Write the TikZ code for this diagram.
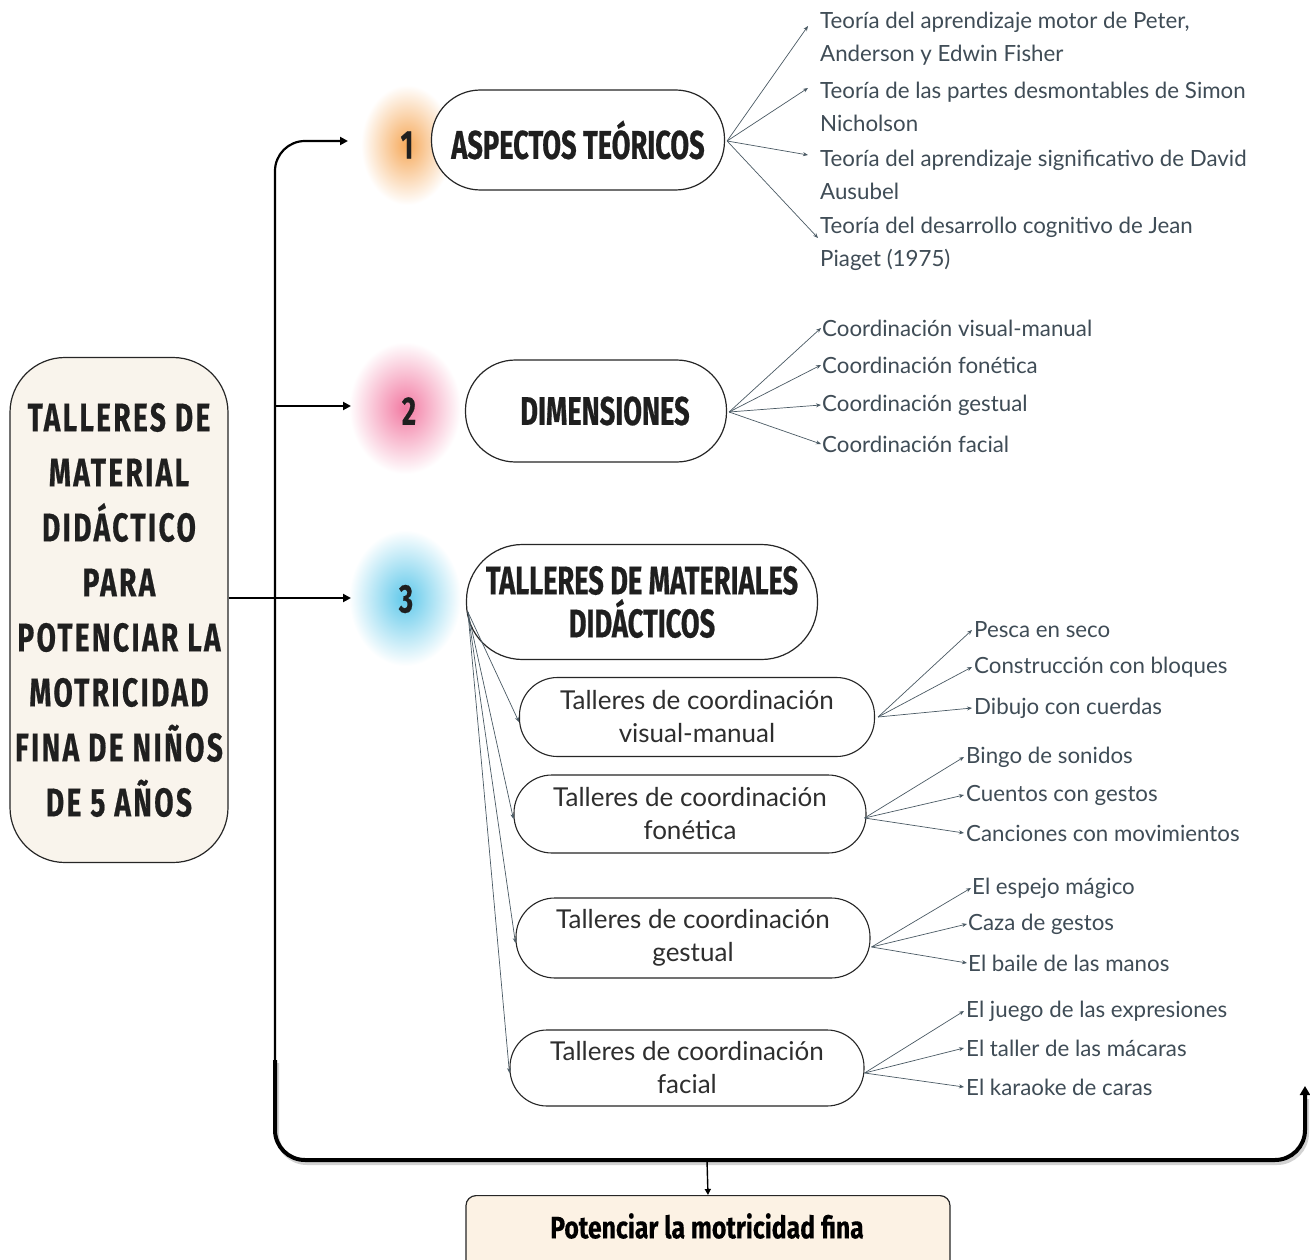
\documentclass[tikz,border=0pt]{standalone}
\usepackage{fontspec}
\setmainfont{Lato}
\newfontfamily\headfont[FakeStretch=0.68, BoldFeatures={FakeBold=0.5}]{Fira Sans}
\newfontfamily\headwide[FakeStretch=0.7, LetterSpace=6, BoldFeatures={FakeBold=0.5}]{Fira Sans}
\newfontfamily\botfont[FakeStretch=0.8, BoldFeatures={FakeBold=0.4}]{Fira Sans}
\usetikzlibrary{arrows.meta,calc}
\definecolor{cream}{HTML}{F9F4EC}
\definecolor{peach}{HTML}{FCF2E4}
\definecolor{itemc}{HTML}{3F4C56}
\definecolor{linec}{HTML}{4A5A64}
\definecolor{glowA}{HTML}{F6A95A}
\definecolor{glowB}{HTML}{F27AA2}
\definecolor{glowC}{HTML}{5FC8EA}
\begin{document}
\begin{tikzpicture}[x=1pt,y=-1pt,
  every node/.style={inner sep=0pt},
  head/.style={font=\headfont\bfseries\fontsize{40}{55}\selectfont, text=black!88},
  bigbox/.style={draw=black!85, line width=1.2pt, fill=white, align=center},
  subbox/.style={draw=black!85, line width=1.1pt, fill=white, align=center,
    font=\fontsize{26}{33}\selectfont, text=black!82},
  item/.style={anchor=west, font=\fontsize{22.3}{33}\selectfont, text=itemc, align=left},
  fan/.style={draw=linec, line width=0.7pt, -{Stealth[length=5pt,width=4pt]}},
  mainln/.style={draw=black, line width=2.2pt, -{Triangle[length=8pt,width=8pt]}},
]
\useasboundingbox[fill=white] (0,0) rectangle (1310,1260);

% glows
\shade[inner color=glowA, outer color=white] (407,145) ellipse [x radius=46, y radius=60];
\shade[inner color=glowB, outer color=white] (405,408) ellipse [x radius=56, y radius=66];
\shade[inner color=glowC, outer color=white] (405,598) ellipse [x radius=56, y radius=68];

% numbers
\node[head] (n1) at (407,145) {1};
\node[head] (n2) at (409,411) {2};
\node[head] (n3) at (406,599) {3};

% main box
\node[draw=black!85, line width=1.2pt, fill=cream, rounded corners=55,
  minimum width=218, minimum height=505, align=center,
  font=\headwide\bfseries\fontsize{40}{55}\selectfont, text=black!88] (main) at (119,610)
  {TALLERES DE\\MATERIAL\\DIDÁCTICO\\PARA\\POTENCIAR LA\\MOTRICIDAD\\FINA DE NIÑOS\\DE 5 AÑOS};

% level 1 boxes
\node[bigbox, rounded corners=49, minimum width=293, minimum height=100, head] (b1) at (578,140) {ASPECTOS TEÓRICOS};
\node[bigbox, rounded corners=50, minimum width=261, minimum height=102, head] (b2) at (596,411) {\hspace*{18pt}DIMENSIONES};
\node[bigbox, rounded corners=56, minimum width=351, minimum height=115, head,
  font=\headfont\bfseries\fontsize{40}{43}\selectfont] (b3) at (642,602) {TALLERES DE MATERIALES\\DIDÁCTICOS};

% sub boxes
\node[subbox, rounded corners=38, minimum width=355, minimum height=79] (s1) at (697,717) {Talleres de coordinación\\visual-manual};
\node[subbox, rounded corners=38, minimum width=352, minimum height=78] (s2) at (690,814) {Talleres de coordinación\\fonética};
\node[subbox, rounded corners=39, minimum width=354, minimum height=80] (s3) at (693,938) {Talleres de coordinación\\gestual};
\node[subbox, rounded corners=37, minimum width=354, minimum height=76] (s4) at (687,1068) {Talleres de coordinación\\facial};

% bottom box
\node[draw=black!85, line width=1.2pt, fill=peach, rounded corners=10,
  minimum width=484, minimum height=80, anchor=north] (bot) at (708,1195) {};
\node[font=\botfont\bfseries\fontsize{31}{34}\selectfont, text=black] (botT) at (707,1226) {Potenciar la motricidad fina};

% items of box 1
\node[item] (t1) at (820,39) {Teoría del aprendizaje motor de Peter,\\Anderson y Edwin Fisher};
\node[item] (t2) at (820,107) {Teoría de las partes desmontables de Simon\\Nicholson};
\node[item] (t3) at (820,175) {Teoría del aprendizaje significativo de David\\Ausubel};
\node[item] (t4) at (820,244) {Teoría del desarrollo cognitivo de Jean\\Piaget (1975)};
% items of box 2
\node[item] (d1) at (822,328) {Coordinación visual-manual};
\node[item] (d2) at (822,365) {Coordinación fonética};
\node[item] (d3) at (822,405) {Coordinación gestual};
\node[item] (d4) at (822,444) {Coordinación facial};
% items of sub boxes
\node[item] (p1) at (974,630) {Pesca en seco};
\node[item] (p2) at (974,667) {Construcción con bloques};
\node[item] (p3) at (974,708) {Dibujo con cuerdas};
\node[item] (q1) at (966,757) {Bingo de sonidos};
\node[item] (q2) at (966,795) {Cuentos con gestos};
\node[item] (q3) at (966,833) {Canciones con movimientos};
\node[item] (r1) at (972,888) {El espejo mágico};
\node[item] (r2) at (968,924) {Caza de gestos};
\node[item] (r3) at (968,963) {El baile de las manos};
\node[item] (u1) at (966,1011) {El juego de las expresiones};
\node[item] (u2) at (966,1048) {El taller de las mácaras};
\node[item] (u3) at (966,1087) {El karaoke de caras};

% fan connectors
\draw[fan] ($(b1.east)+(2,1)$) -- ($(t1.west)+(-12,-13)$);
\draw[fan] ($(b1.east)+(2,1)$) -- ($(t2.west)+(-12,-19)$);
\draw[fan] ($(b1.east)+(2,1)$) -- ($(t3.west)+(-12,-20)$);
\draw[fan] ($(b1.east)+(2,1)$) -- ($(t4.west)+(-2,-6)$);
\foreach \t in {d1,d2,d3,d4}
  \draw[fan] ($(b2.east)+(2,1)$) -- ($(\t.west)+(-1,0)$);
\foreach \t in {p1,p2,p3}
  \draw[fan] ($(s1.east)+(3,0)$) -- ($(\t.west)+(-2,0)$);
\foreach \t in {q1,q2,q3}
  \draw[fan] ($(s2.east)+(-2,4)$) -- ($(\t.west)+(-2,0)$);
\foreach \t in {r1,r2,r3}
  \draw[fan] ($(s3.east)+(1,9)$) -- ($(\t.west)+(-1,0)$);
\foreach \t in {u1,u2,u3}
  \draw[fan] ($(s4.east)+(0,5)$) -- ($(\t.west)+(-2,0)$);
\foreach \t in {s1,s2,s3,s4}
  \draw[fan] ($(b3.west)+(2,10)$) -- ($(\t.west)+(0,5)$);

% main connectors
\coordinate (a1) at (348,141);
\coordinate (a2) at (351,406);
\coordinate (a3) at (351,598);
\coordinate (vtop) at (275,141);
\coordinate (v2) at (275,406);
\coordinate (vlow) at (275,1060);
\coordinate (bl) at (275,1160);
\coordinate (br) at (1305,1160);
\coordinate (endup) at (1305,1086);
\coordinate (drop) at (707,1160);

\draw[mainln, rounded corners=30] (vlow) -- (vtop) -- (a1);
\draw[mainln] (v2) -- (a2);
\draw[mainln] (main.east |- a3) -- (a3);
\draw[black!35, line width=4pt, rounded corners=30, opacity=0.5] ($(vlow)+(2,3)$) -- ($(bl)+(2,3)$) -- ($(br)+(2,3)$) -- ($(endup)+(2,13)$);
\draw[black, line width=4pt, rounded corners=30, -{Triangle[length=9pt,width=10pt]}] (vlow) -- (bl) -- (br) -- (endup);
\draw[black, line width=1.4pt, -{Triangle[length=6pt,width=6pt]}] (drop) -- (bot.north);
\end{tikzpicture}
\end{document}
